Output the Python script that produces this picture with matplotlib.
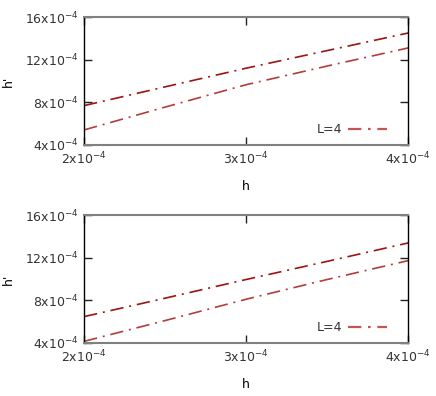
import matplotlib
matplotlib.use('Agg')
import matplotlib.pyplot as plt
import matplotlib.ticker as mticker
import numpy as np

# data (h in units of 1e-4, h' in units of 1e-4)
h = np.array([2.0, 2.5, 3.0, 3.5, 4.0]) * 1e-4
top_upper = np.array([7.69, 9.45, 11.2, 12.85, 14.5]) * 1e-4
top_lower = np.array([5.41, 7.55, 9.65, 11.4, 13.1]) * 1e-4
bot_upper = np.array([6.47, 8.2, 9.95, 11.65, 13.38]) * 1e-4
bot_lower = np.array([4.15, 6.1, 8.1, 9.95, 11.72]) * 1e-4

x_ticks = np.array([2, 3, 4]) * 1e-4
x_labels = ['2x10$^{-4}$', '3x10$^{-4}$', '4x10$^{-4}$']
y_ticks = np.array([4, 8, 12, 16]) * 1e-4
y_labels = ['4x10$^{-4}$', '8x10$^{-4}$', '12x10$^{-4}$', '16x10$^{-4}$']
legend_label = 'L=4'

plt.rcParams.update({
    'font.family': 'DejaVu Sans',
    'font.size': 9,
    'mathtext.fontset': 'dejavusans',
    'text.color': '#333333',
    'xtick.color': '#222222',
    'ytick.color': '#222222',
    'xtick.labelcolor': '#333333',
    'ytick.labelcolor': '#333333',
})

C_DARK = '#9c1414'
C_LIGHT = '#b33c3c'
C_LEG = '#c55555'
DASH = (0, (8, 3.5, 1.2, 3.5))

fig = plt.figure(figsize=(4.36, 3.96), dpi=100)
ax_top = fig.add_axes([0.193, 0.634, 0.743, 0.323])
ax_bot = fig.add_axes([0.193, 0.134, 0.743, 0.323])


def style_axes(ax, upper, lower):
    ax.plot(h, upper, color=C_DARK, linewidth=1.2, linestyle=DASH)
    ax.plot(h, lower, color=C_LIGHT, linewidth=1.2, linestyle=DASH)
    ax.plot([], [], color=C_LEG, linewidth=1.6, linestyle=(0, (6, 3, 1.2, 3)),
            label=legend_label)
    ax.set_xlim(2e-4, 4e-4)
    ax.set_ylim(4e-4, 16e-4)
    ax.xaxis.set_major_locator(mticker.FixedLocator(x_ticks))
    ax.set_xticklabels(x_labels)
    ax.yaxis.set_major_locator(mticker.FixedLocator(y_ticks))
    ax.set_yticklabels(y_labels)
    ax.tick_params(direction='in', length=6, width=1, top=True, right=True,
                   pad=4, labelsize=9)
    for side in ['left', 'right']:
        ax.spines[side].set_color('black')
        ax.spines[side].set_linewidth(1)
    for side in ['top', 'bottom']:
        ax.spines[side].set_color('#808080')
        ax.spines[side].set_linewidth(1.5)
    ax.set_xlabel('h', fontsize=9, labelpad=9)
    ax.set_ylabel("h'", fontsize=9)
    ax.yaxis.set_label_coords(-0.215, 0.5)
    ax.legend(loc='center right', bbox_to_anchor=(0.95, 0.117),
              frameon=False, markerfirst=False, handlelength=3.1,
              handletextpad=0.5, fontsize=9, borderaxespad=0)


style_axes(ax_top, top_upper, top_lower)
style_axes(ax_bot, bot_upper, bot_lower)

fig.savefig('out.png', dpi=100)
